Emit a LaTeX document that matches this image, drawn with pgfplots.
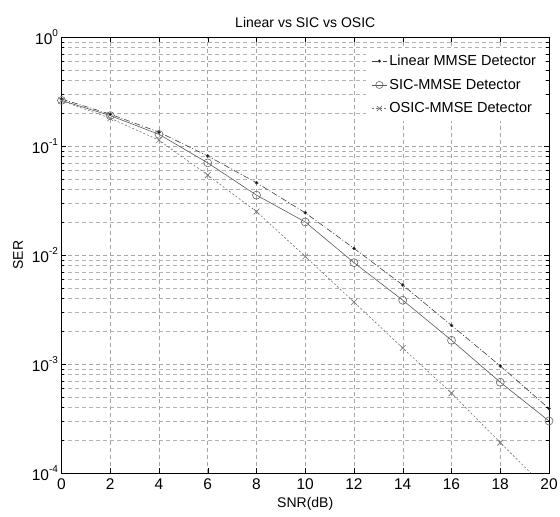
\documentclass[border=0pt]{standalone}
\usepackage{pgfplots}
\pgfplotsset{compat=1.18}
\usepackage{fontspec}
\setmainfont{Liberation Sans}
\newcommand{\tp}[1]{10\raisebox{0.55em}{\fontsize{10}{10}\selectfont #1}}
\begin{document}
\begin{tikzpicture}
\begin{axis}[
  scale only axis, width=487.5pt, height=436pt,
  ymode=log, xmin=0, xmax=20, ymin=1e-4, ymax=1,
  xtick={0,2,...,20},
  ytick={1e-4,1e-3,1e-2,1e-1,1},
  yticklabels={\tp{-4},\tp{-3},\tp{-2},\tp{-1},\tp{0}},
  tick align=inside, tick style={black, line width=0.4pt},
  major tick length=5pt, minor tick length=3pt,
  grid=both,
  major grid style={gray!70, line width=0.5pt, dash pattern=on 4pt off 3pt},
  minor grid style={gray!60, line width=0.5pt, dash pattern=on 4pt off 3pt},
  axis line style={black, line width=0.5pt},
  font=\fontsize{14}{16}\selectfont,
  ticklabel style={font=\fontsize{15.5}{17}\selectfont},
  xticklabel style={yshift=-2pt},
  /pgf/number format/assume math mode=true,
  title={Linear vs SIC vs OSIC},
  title style={font=\fontsize{14}{16}\selectfont, yshift=0pt},
  xlabel={SNR(dB)}, ylabel={SER},
  xlabel style={font=\fontsize{14}{16}\selectfont, yshift=-1pt},
  ylabel style={font=\fontsize{14}{16}\selectfont, yshift=2pt},
  legend style={at={(0.625,0.975)}, anchor=north west, draw=none, fill=white,
    font=\fontsize{14.5}{17}\selectfont, row sep=8pt, inner sep=5pt},
  legend cell align=left,
  legend image post style={scale=0.9},
]
\addplot[black!75, line width=0.6pt, dash pattern=on 6pt off 2pt on 1pt off 2pt, mark=*, mark size=1.4pt, mark options={solid, fill=black}]
coordinates {(0,0.27)(2,0.196)(4,0.134)(6,0.081)(8,0.046)(10,0.0244)(12,0.0115)(14,0.0053)(16,0.00226)(18,0.00096)(20,0.00039)};
\addlegendentry{Linear MMSE Detector}
\addplot[black!65, line width=0.6pt, mark=o, mark size=4pt, mark options={solid, black!60}]
coordinates {(0,0.262)(2,0.19)(4,0.128)(6,0.070)(8,0.0354)(10,0.0201)(12,0.0085)(14,0.00385)(16,0.00165)(18,0.00068)(20,0.0003)};
\addlegendentry{SIC-MMSE Detector}
\addplot[black!55, line width=0.6pt, dash pattern=on 2pt off 2pt, mark=x, mark size=4pt, mark options={solid, black!55}]
coordinates {(0,0.26)(2,0.18)(4,0.113)(6,0.054)(8,0.025)(10,0.0097)(12,0.0037)(14,0.0014)(16,0.00054)(18,0.00019)(20,0.000068)};
\addlegendentry{OSIC-MMSE Detector}
\end{axis}
\pgfresetboundingbox
\path (current axis.south west) ++(-61.5pt,-44pt) coordinate (bl);
\path (current axis.north east) ++(11pt,37pt) coordinate (tr);
\path (bl) rectangle (tr);
\end{tikzpicture}
\end{document}
